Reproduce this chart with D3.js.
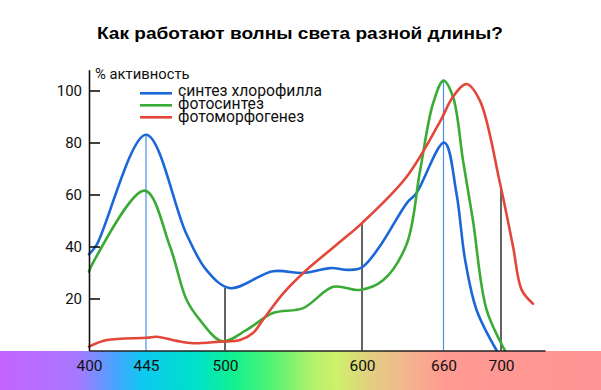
<!DOCTYPE html>
<html>
<head>
<meta charset="utf-8">
<script src="https://cdn.jsdelivr.net/npm/d3@7"></script>
<style>
  body { margin: 0; background: #fff; }
  svg { display: block; }
</style>
</head>
<body>
<svg width="601" height="390"></svg>
<script>
// wavelengths (nm) and activity (%)
const blueNm   = [400, 406, 445, 473, 487, 503.6, 535, 557, 577, 590, 600, 613, 633, 640, 660.5, 669, 675, 683, 697];
const blueVal  = [37, 40.6, 83, 45, 31, 24, 30.5, 29.8, 31.7, 31, 32, 40, 56.7, 60.5, 80, 60.5, 35, 15.6, 0];

const greenNm  = [400, 403, 444, 461.7, 473.3, 482.6, 498, 515.8, 535, 557, 579, 598.5, 615.5, 632.9, 642.7, 652.3, 660, 666.6, 673.6, 680.5, 690, 702.7];
const greenVal = [30.3, 33.6, 61.5, 40, 19.4, 11.7, 3.6, 7.9, 14.4, 16.3, 24.5, 23.3, 27, 41, 69, 95, 103.8, 97.6, 73, 50, 15.6, 0];

const redNm    = [400, 414, 445.5, 452.5, 466.4, 477.8, 496.5, 511, 520.4, 528, 542.5, 558.5, 584.5, 600, 632.9, 657.4, 666.6, 676.1, 685.4, 699.3, 708.2, 714.1, 721.8];
const redVal   = [1.5, 4, 4.9, 5.3, 3.7, 2.8, 3.4, 4, 6.7, 12, 22, 30.5, 42, 49, 66.8, 88, 97.6, 102.5, 96, 64.3, 40, 23.3, 18];

const xTicks = [400, 445, 500, 600, 660, 700];
const yTicks = [20, 40, 60, 80, 100];

// guide lines: wavelength, height, colour
const guideNm  = [445, 500, 600, 660, 700];
const guideTop = [83, 24, 49, 104, 63];
const guideCol = ["#4a8fe6", "#111", "#111", "#4a8fe6", "#111"];

const seriesNames = ["синтез хлорофилла", "фотосинтез", "фотоморфогенез"];
const seriesColors = ["#1c67d8", "#3aab35", "#e2473a"];

const svg = d3.select("svg");

// spectrum band under the axis
const spectrumStops = [
  [0, "#c463ff"], [0.13, "#a878ff"], [0.19, "#4aa2ff"], [0.24, "#0ccaf0"],
  [0.33, "#00e2c6"], [0.39, "#12f28e"], [0.46, "#5cf272"], [0.52, "#b4f26c"],
  [0.56, "#cef06a"], [0.61, "#e0d27e"], [0.67, "#f2b88e"], [0.74, "#ff9a92"], [1, "#ff9494"]
];
const grad = svg.append("defs").append("linearGradient")
    .attr("id", "spectrum")
    .attr("x1", "0%").attr("x2", "100%");
grad.selectAll("stop")
    .data(spectrumStops)
    .enter().append("stop")
    .attr("offset", d => d[0])
    .attr("stop-color", d => d[1]);

svg.append("rect")
    .attr("x", 0).attr("y", 351)
    .attr("width", 601).attr("height", 39)
    .attr("fill", "url(#spectrum)");

// the original axis is not quite linear, so map the labelled points
const x = d3.scaleLinear()
    .domain([400, 445, 500, 600, 660, 700, 730])
    .range([89, 146, 225, 362, 443.5, 501, 545]);

const y = d3.scaleLinear()
    .domain([0, 108])
    .range([350.5, 69.7]);

svg.append("text")
    .attr("x", 300)
    .attr("y", 38.5)
    .attr("text-anchor", "middle")
    .attr("font-family", "Liberation Sans, Arial, sans-serif")
    .attr("font-weight", "bold")
    .attr("font-size", "16.5px")
    .attr("textLength", 406)
    .attr("lengthAdjust", "spacingAndGlyphs")
    .attr("fill", "#000")
    .text("Как работают волны света разной длины?");

// guides
svg.selectAll(".guide")
    .data(guideNm)
    .enter().append("line")
    .attr("class", "guide")
    .attr("x1", d => x(d)).attr("x2", d => x(d))
    .attr("y1", (d, i) => y(guideTop[i]))
    .attr("y2", y(0))
    .attr("stroke", (d, i) => guideCol[i])
    .attr("stroke-width", (d, i) => guideCol[i] === "#111" ? 1.3 : 1.2);

// curves
const series = [
    { nm: blueNm, val: blueVal },
    { nm: greenNm, val: greenVal },
    { nm: redNm, val: redVal }
];

const line = d3.line()
    .x(d => x(d[0]))
    .y(d => y(d[1]))
    .curve(d3.curveCatmullRom.alpha(0.5));

svg.selectAll(".curve")
    .data(series)
    .enter().append("path")
    .attr("class", "curve")
    .attr("d", d => line(d.nm.map((n, i) => [n, d.val[i]])))
    .attr("fill", "none")
    .attr("stroke", (d, i) => seriesColors[i])
    .attr("stroke-width", 2.6)
    .attr("stroke-linecap", "round");

// y axis
const yAxis = svg.append("g")
    .attr("transform", "translate(89,0)")
    .call(d3.axisLeft(y).tickValues(yTicks).tickSize(-11).tickSizeOuter(0).tickPadding(7));
yAxis.select(".domain").attr("stroke", "#111").attr("stroke-width", 1.6);
yAxis.selectAll(".tick line").attr("stroke", "#111").attr("stroke-width", 1.6);
yAxis.selectAll("text")
    .attr("font-family", "Roboto, sans-serif")
    .attr("font-size", "15px")
    .attr("fill", "#111");

// x axis
const xAxis = svg.append("g")
    .attr("transform", "translate(0,350.5)")
    .call(d3.axisBottom(x).tickValues(xTicks).tickSize(0).tickPadding(9));
xAxis.select(".domain").attr("stroke", "#222").attr("stroke-width", 1.6);
xAxis.selectAll("text")
    .attr("font-family", "Roboto, sans-serif")
    .attr("font-size", "15.5px")
    .attr("fill", "#111");

svg.append("text")
    .attr("x", 95)
    .attr("y", 79)
    .attr("font-family", "Roboto, sans-serif")
    .attr("font-size", "14.8px")
    .attr("fill", "#111")
    .text("% активность");

// legend
const legend = svg.selectAll(".legend")
    .data(seriesNames)
    .enter().append("g")
    .attr("class", "legend")
    .attr("transform", (d, i) => `translate(140,${93.3 + i * 12})`);

legend.append("line")
    .attr("x1", 0).attr("x2", 32)
    .attr("stroke", (d, i) => seriesColors[i])
    .attr("stroke-width", 2.6);

legend.append("text")
    .attr("x", 38)
    .attr("y", (d, i) => 3 + i)
    .attr("font-family", "Roboto, sans-serif")
    .attr("font-size", "15.7px")
    .attr("fill", "#111")
    .text(d => d);
</script>
</body>
</html>
